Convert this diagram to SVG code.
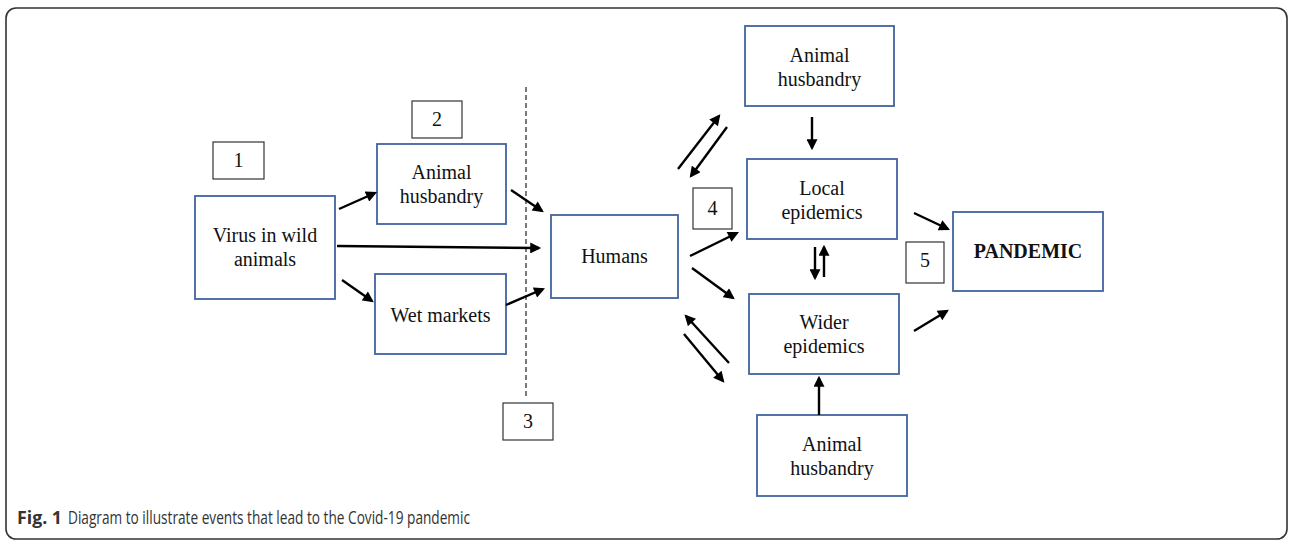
<svg xmlns="http://www.w3.org/2000/svg" width="1292" height="542" viewBox="0 0 1292 542">
<style>
.frame{fill:#fff;stroke:#333;stroke-width:1.6}
.box{fill:#fff;stroke:#41649f;stroke-width:1.8}
.num{fill:#fff;stroke:#333;stroke-width:1.2}
.t{font-family:"Liberation Serif","Times New Roman",serif;font-size:20px;fill:#111;text-anchor:middle}
.b{font-weight:bold}
.c line{stroke:#000;stroke-width:2.4;marker-end:url(#ah)}
.dash{stroke:#222;stroke-width:1.2;stroke-dasharray:5 3}
.cap{font-family:"Open Sans","Liberation Sans",sans-serif;font-size:18px;fill:#333}
</style>
<defs>
<marker id="ah" viewBox="0 0 10 10" refX="8" refY="5" markerUnits="userSpaceOnUse" markerWidth="12" markerHeight="11" orient="auto">
<path d="M0,0 L10,5 L0,10 z" fill="#000"/>
</marker>
</defs>
<rect class="frame" x="6" y="8" width="1281" height="531" rx="10"/>
<line class="dash" x1="526" y1="87" x2="526" y2="398"/>
<g id="n1"><rect class="num" x="213" y="142" width="51" height="37"/><text class="t" x="238.5" y="167">1</text></g>
<g id="n2"><rect class="num" x="412" y="101" width="50" height="37"/><text class="t" x="437" y="126">2</text></g>
<g id="n3"><rect class="num" x="503" y="403" width="50" height="37"/><text class="t" x="528" y="428">3</text></g>
<g id="n4"><rect class="num" x="693" y="188" width="39" height="41"/><text class="t" x="712.5" y="215">4</text></g>
<g id="n5"><rect class="num" x="906" y="242" width="38" height="41"/><text class="t" x="925" y="267">5</text></g>
<g id="virus"><rect class="box" x="195" y="196" width="140" height="103"/><text class="t" x="265" y="242">Virus in wild</text><text class="t" x="265" y="266">animals</text></g>
<g id="ah1"><rect class="box" x="377" y="144" width="129" height="80"/><text class="t" x="441.5" y="179">Animal</text><text class="t" x="441.5" y="203">husbandry</text></g>
<g id="wet"><rect class="box" x="375" y="274" width="131" height="80"/><text class="t" x="440.5" y="322">Wet markets</text></g>
<g id="humans"><rect class="box" x="551" y="215" width="127" height="83"/><text class="t" x="614.5" y="263">Humans</text></g>
<g id="ah2"><rect class="box" x="745" y="26" width="149" height="80"/><text class="t" x="819.5" y="62">Animal</text><text class="t" x="819.5" y="86">husbandry</text></g>
<g id="local"><rect class="box" x="747" y="159" width="150" height="80"/><text class="t" x="822" y="195">Local</text><text class="t" x="822" y="219">epidemics</text></g>
<g id="wider"><rect class="box" x="749" y="294" width="150" height="80"/><text class="t" x="824" y="329">Wider</text><text class="t" x="824" y="353">epidemics</text></g>
<g id="ah3"><rect class="box" x="757" y="415" width="150" height="81"/><text class="t" x="832" y="451">Animal</text><text class="t" x="832" y="475">husbandry</text></g>
<g id="pandemic"><rect class="box" x="953" y="212" width="150" height="79"/><text class="t b" x="1028" y="258">PANDEMIC</text></g>
<g id="connectors" class="c">
<line x1="339" y1="209" x2="375" y2="193"/>
<line x1="337" y1="246" x2="539" y2="248"/>
<line x1="342" y1="280" x2="372" y2="301"/>
<line x1="511" y1="190" x2="542" y2="211"/>
<line x1="506" y1="305" x2="543" y2="289"/>
<line x1="678" y1="169" x2="719" y2="116"/>
<line x1="727" y1="127" x2="691" y2="176"/>
<line x1="812" y1="117" x2="812" y2="148"/>
<line x1="690" y1="256" x2="737" y2="233"/>
<line x1="692" y1="268" x2="733" y2="298"/>
<line x1="815" y1="247" x2="815" y2="278"/>
<line x1="824" y1="277" x2="824" y2="247"/>
<line x1="729" y1="363" x2="686" y2="316"/>
<line x1="684" y1="334" x2="723" y2="381"/>
<line x1="819" y1="415" x2="819" y2="378"/>
<line x1="914" y1="213" x2="948" y2="229"/>
<line x1="914" y1="331" x2="947" y2="311"/>
</g>
<text class="cap" x="17" y="524" font-weight="bold" textLength="45" lengthAdjust="spacingAndGlyphs">Fig. 1</text>
<text class="cap" x="68" y="524" textLength="402" lengthAdjust="spacingAndGlyphs">Diagram to illustrate events that lead to the Covid-19 pandemic</text>
</svg>
